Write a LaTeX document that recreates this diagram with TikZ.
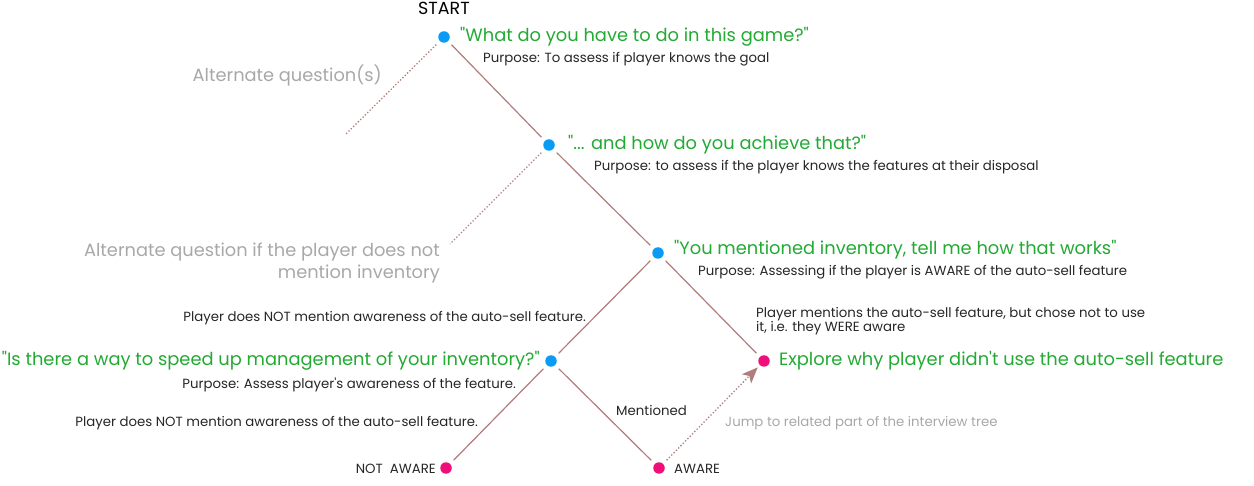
\documentclass[tikz,border=0pt]{standalone}
\usepackage{fontspec}
\setmainfont{Poppins}[Ligatures=TeXOff]
\usetikzlibrary{arrows.meta}
\definecolor{qblue}{HTML}{0A9BF5}
\definecolor{epink}{HTML}{F00F7A}
\definecolor{qgreen}{HTML}{22AA33}
\definecolor{lnk}{HTML}{B07C7C}
\definecolor{greytxt}{HTML}{A8A8A8}
\begin{document}
\begin{tikzpicture}[x=1pt,y=-1pt,
  qdot/.style={circle,fill=qblue,inner sep=0pt,minimum size=11.5pt},
  edot/.style={circle,fill=epink,inner sep=0pt,minimum size=11.5pt},
  qtext/.style={text=qgreen,font=\fontsize{17.85}{21}\selectfont,inner sep=0pt},
  ptext/.style={text=black!85,font=\fontsize{13.3}{15}\selectfont,inner sep=0pt},
  atext/.style={text=greytxt,font=\fontsize{17.8}{22}\selectfont,inner sep=0pt},
  link/.style={draw=lnk,line width=1.2pt,shorten >=5pt,shorten <=5pt},
  alt/.style={draw=lnk,line width=1.3pt,dotted,shorten <=5pt},
]
\useasboundingbox (0,0) rectangle (1254,486);
% dots
\node[qdot] (q1) at (444,37) {};
\node[qdot] (q2) at (549,145) {};
\node[qdot] (q3) at (658,253) {};
\node[qdot] (q4) at (551,361) {};
\node[edot] (ex) at (764,361) {};
\node[edot] (na) at (446,468) {};
\node[edot] (aw) at (659,468) {};
\coordinate (a1) at (345,135);
\coordinate (a2) at (450,244);
% connectors
\draw[link] (q1) -- (q2);
\draw[link] (q2) -- (q3);
\draw[link] (q3) -- (q4);
\draw[link] (q3) -- (ex);
\draw[link] (q4) -- (na);
\draw[link] (q4) -- (aw);
\draw[alt] (q1) -- (a1);
\draw[alt] (q2) -- (a2);
\draw[draw=lnk,line width=1.3pt,dotted,shorten <=5pt,shorten >=3pt,
  -{Stealth[length=16pt,width=13pt,inset=4pt,fill=lnk]}] (aw) -- (ex);
% texts
\node[font=\fontsize{17.5}{20}\selectfont,inner sep=0pt] (st) at (444,8) {START};
\node[qtext,anchor=west] (t1) at (460,37) {"What do you have to do in this game?"};
\node[ptext,anchor=west] (p1) at (483,59) {Purpose: To assess if player knows the goal};
\node[atext,anchor=east] (al1) at (382,76) {Alternate question(s)};
\node[qtext,anchor=west] (t2) at (568,145) {"... and how do you achieve that?"};
\node[ptext,anchor=west] (p2) at (594,167) {Purpose: to assess if the player knows the features at their disposal};
\node[atext,anchor=east,align=right] (al2) at (440,263) {Alternate question if the player does not\\mention inventory};
\node[qtext,anchor=west] (t3) at (674,250) {"You mentioned inventory, tell me how that works"};
\node[ptext,anchor=west] (p3) at (698,272) {Purpose: Assessing if the player is AWARE of the auto-sell feature};
\node[ptext,anchor=east] (c1) at (586,318) {Player does NOT mention awareness of the auto-sell feature.};
\node[ptext,anchor=west,align=left,font=\fontsize{13.3}{14}\selectfont] (c2) at (756,321) {Player mentions the auto-sell feature, but chose not to use\\it, i.e. they WERE aware};
\node[qtext,anchor=east] (t4) at (540,361) {"Is there a way to speed up management of your inventory?"};
\node[ptext,anchor=east] (p4) at (516,385) {Purpose: Assess player's awareness of the feature.};
\node[qtext,anchor=west] (t5) at (779,361) {Explore why player didn't use the auto-sell feature};
\node[ptext,anchor=east] (c3) at (478,423) {Player does NOT mention awareness of the auto-sell feature.};
\node[ptext,anchor=west] (c4) at (616,410) {Mentioned};
\node[ptext,anchor=west,text=greytxt] (j) at (725,423) {Jump to related part of the interview tree};
\node[ptext,anchor=east] (nal) at (436,469) {NOT\ \ AWARE};
\node[ptext,anchor=west] (awl) at (674,469) {AWARE};
\end{tikzpicture}
\end{document}
